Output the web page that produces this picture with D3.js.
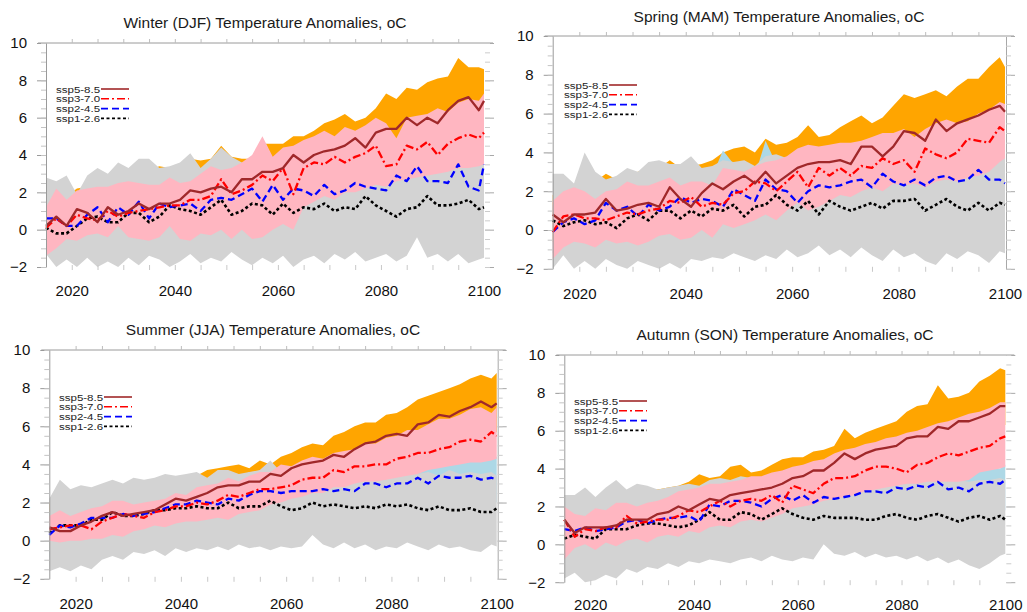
<!DOCTYPE html>
<html>
<head>
<meta charset="utf-8">
<script src="https://cdn.jsdelivr.net/npm/d3@7"></script>
<style>
body { margin: 0; background: #fff; }
svg { display: block; }
</style>
</head>
<body>
<div id="chart-container"></div>
<script>
var width = 1027;
var height = 612;
var font = "'Liberation Sans', Arial, Helvetica, sans-serif";

var years = [2015,2017,2019,2021,2023,2025,2027,2029,2031,2033,2035,2037,2039,2041,2043,2045,2047,2049,2051,2053,2055,2057,2059,2061,2063,2065,2067,2069,2071,2073,2075,2077,2079,2081,2083,2085,2087,2089,2091,2093,2095,2097,2099,2100];
var yTicks = [-2, 0, 2, 4, 6, 8, 10];
var xTicks = [2020, 2040, 2060, 2080, 2100];
var xMinor = [2020,2025,2030,2035,2040,2045,2050,2055,2060,2065,2070,2075,2080,2085,2090,2095];
var yMinor = d3.range(-2, 10.01, 0.5);
var scenarios = ["ssp5-8.5", "ssp3-7.0", "ssp2-4.5", "ssp1-2.6"];

// Winter (DJF)
var djf585 = [0.2,0.7,0.2,1.1,0.9,0.4,1.2,0.8,1.0,1.4,1.1,1.4,1.4,1.6,2.1,2.0,2.2,2.3,2.0,2.7,2.7,3.1,3.1,3.3,4.0,3.6,4.0,4.2,4.3,4.5,4.9,4.4,5.2,5.4,5.4,6.0,5.6,6.0,5.7,6.4,6.9,7.1,6.4,6.9];
var djf370 = [0.1,0.6,0.2,0.8,0.6,0.5,1.0,0.7,0.9,1.0,1.1,1.2,1.3,1.3,1.6,1.6,1.8,2.7,1.9,2.1,2.4,2.9,2.6,3.3,1.9,3.3,3.6,3.5,3.9,3.6,3.9,4.1,4.5,3.4,3.5,4.5,4.3,4.7,4.0,4.6,4.9,5.1,4.9,5.2];
var djf245 = [0.6,0.6,0.2,0.2,0.8,1.2,0.4,1.2,0.8,1.5,0.6,1.4,1.2,1.3,1.4,1.0,1.6,1.7,1.6,1.9,2.2,1.5,2.4,1.6,2.2,2.1,1.8,2.4,1.9,2.1,2.5,2.3,2.2,2.1,2.9,2.6,3.4,2.6,2.6,2.5,3.5,2.3,2.1,3.5];
var djf126 = [0.1,-0.2,-0.2,0.2,0.6,0.7,0.4,0.4,0.9,0.9,0.4,0.7,1.3,1.1,1.0,0.8,1.2,1.6,0.8,1.0,1.4,1.3,0.8,1.4,0.9,1.2,1.1,1.4,1.0,1.2,1.1,1.8,1.3,1.0,0.7,1.1,1.2,1.8,1.3,1.3,1.4,1.6,1.1,1.2];
var djf585hi = [1.5,1.8,1.8,2.2,2.3,2.5,2.7,2.8,2.9,3.0,3.2,3.4,3.3,3.5,3.8,3.7,3.8,4.5,3.9,3.8,3.8,4.6,4.6,4.6,5.0,5.0,5.3,5.7,5.9,6.2,5.8,6.0,6.5,7.3,7.0,7.6,7.5,7.9,8.1,8.2,9.2,8.7,8.7,8.6];
var djf585lo = [-0.8,-0.5,-0.6,-0.2,-0.3,-0.5,0.0,-0.2,0.0,0.2,0.0,0.3,0.3,0.5,0.8,0.7,0.9,1.0,0.8,1.2,1.2,1.5,1.5,1.7,2.2,2.0,2.3,2.5,2.6,2.8,3.0,2.8,3.3,3.5,3.6,4.0,3.8,4.1,4.0,4.4,4.8,5.0,4.6,4.9];
var djf370hi = [1.2,2.2,1.6,2.1,2.2,2.3,2.3,2.5,2.6,2.5,2.4,2.4,2.8,2.5,2.6,3.0,3.4,3.2,3.3,3.6,4.0,5.0,3.9,4.4,4.5,4.8,5.0,5.3,5.0,5.5,5.3,5.6,6.0,5.7,4.9,6.0,6.1,6.2,6.5,6.3,6.8,7.0,6.9,7.3];
var djf370lo = [-1.4,-1.0,-0.5,-0.6,-0.3,-0.2,-0.4,0.2,-0.4,-0.5,-0.6,-0.4,0.2,-0.5,-0.6,-0.2,-0.3,0.0,-0.5,0.0,-0.5,-0.4,0.0,0.3,0.0,1.2,1.5,1.8,1.6,2.0,2.0,2.2,2.4,2.3,2.6,2.7,2.8,2.9,3.0,3.1,3.3,3.3,3.4,3.5];
var djf245hi = [1.8,1.8,1.6,1.5,2.0,2.3,1.8,2.4,2.1,2.6,2.0,2.6,2.5,2.6,2.7,2.4,2.9,3.0,3.0,3.2,3.4,3.0,3.4,3.0,3.3,3.3,3.1,3.6,3.3,3.5,3.8,3.6,3.6,3.5,4.0,3.9,4.5,3.9,4.0,3.9,4.6,3.7,3.6,4.6];
var djf245lo = [-0.8,-0.9,-1.2,-1.1,-0.6,-0.3,-0.9,-0.2,-0.6,0.0,-0.7,0.0,-0.2,-0.1,0.0,-0.3,0.2,0.3,0.2,0.5,0.7,0.1,0.9,0.2,0.7,0.6,0.4,0.9,0.5,0.7,1.0,0.9,0.8,0.7,1.4,1.2,1.9,1.1,1.1,1.0,1.9,0.8,0.6,1.9];
var djf126hi = [2.8,2.6,2.9,1.9,2.9,3.3,3.0,3.6,3.3,3.8,3.8,3.3,3.4,3.6,4.1,3.3,3.8,4.4,3.9,3.6,3.5,3.3,3.2,3.2,3.3,3.0,3.2,3.3,3.1,3.3,3.4,3.2,3.3,3.4,3.2,3.5,3.3,3.6,3.4,3.5,3.6,3.4,3.5,3.6];
var djf126lo = [-1.3,-2.0,-1.6,-2.0,-1.5,-2.0,-1.7,-2.0,-1.5,-1.9,-1.4,-1.6,-2.0,-1.7,-1.3,-1.8,-1.5,-1.7,-1.2,-1.6,-1.9,-1.5,-1.8,-1.4,-2.0,-1.6,-1.4,-1.8,-1.3,-1.6,-1.2,-1.7,-1.5,-1.3,-1.7,-1.4,-0.4,-1.5,-1.3,-1.7,-1.3,-1.8,-1.6,-1.5];

// Spring (MAM)
var mam585 = [0.8,0.4,0.8,0.8,0.9,1.6,1.0,1.1,1.3,1.4,1.2,2.2,1.6,1.2,1.9,2.4,2.1,2.5,2.8,2.4,3.0,2.4,2.8,3.2,3.4,3.5,3.5,3.6,3.4,4.3,4.3,3.8,4.3,5.1,5.0,4.6,5.7,5.1,5.5,5.7,5.9,6.2,6.4,6.1];
var mam370 = [-0.1,0.7,0.8,0.6,0.6,0.5,0.7,0.9,0.8,1.0,1.1,1.5,1.4,1.7,1.2,1.4,1.3,1.9,2.0,2.5,2.4,2.0,2.5,3.0,2.2,3.2,2.8,3.2,2.8,3.3,3.2,3.7,3.4,3.6,3.0,4.2,3.9,3.7,4.0,4.7,4.6,4.5,5.3,5.1];
var mam245 = [-0.1,0.4,0.6,0.3,0.5,1.4,1.0,1.2,0.7,1.3,1.0,1.2,1.7,1.4,1.6,1.5,1.2,2.1,1.8,1.5,2.6,2.1,2.0,1.4,2.0,2.3,2.2,2.3,2.5,2.6,2.2,2.9,2.5,2.3,2.6,2.3,2.7,2.8,2.5,2.6,3.1,2.6,2.6,2.4];
var mam126 = [0.5,0.2,0.4,0.5,0.3,0.4,0.1,0.6,0.8,0.5,1.0,1.0,0.6,1.0,0.7,1.1,1.0,1.3,0.7,1.2,1.3,1.8,1.3,1.0,1.5,0.8,1.5,1.2,1.0,1.2,1.4,1.1,1.5,1.5,1.6,1.0,1.3,1.6,1.2,1.0,1.4,1.0,1.4,1.3];
var mam585hi = [1.8,2.0,2.1,2.3,2.5,2.9,2.6,2.8,3.0,3.1,3.2,3.6,3.2,3.3,3.4,3.6,4.0,4.2,4.3,4.0,4.7,4.4,4.5,4.8,5.4,4.8,4.9,5.3,5.6,5.9,5.5,5.8,6.4,7.0,6.8,7.0,7.2,6.9,7.4,7.8,7.8,8.4,8.9,8.4];
var mam585lo = [-0.6,-0.8,-0.4,-0.5,-0.4,0.2,-0.2,-0.1,0.1,0.2,0.0,0.8,0.3,0.0,0.5,1.0,0.8,1.1,1.4,1.0,1.6,1.0,1.4,1.8,2.0,2.1,2.1,2.2,2.0,2.9,2.9,2.4,2.9,3.7,3.6,3.2,4.3,3.7,4.1,4.3,4.5,4.8,5.0,4.7];
var mam370hi = [1.5,2.0,2.2,2.0,1.6,2.0,2.1,2.5,2.3,2.3,2.5,2.7,2.3,2.5,2.5,2.3,3.2,3.1,3.0,3.3,3.5,3.6,3.8,4.2,4.4,4.3,4.4,4.5,4.5,4.6,4.8,5.0,5.0,5.2,4.8,5.2,5.5,5.7,5.5,5.6,6.0,6.2,6.6,6.5];
var mam370lo = [-1.5,-0.9,-0.6,-0.7,-0.9,-0.5,-0.7,-0.6,-0.8,-0.6,-0.3,-0.2,-0.5,-0.4,0.0,-0.4,0.3,0.1,0.3,0.5,0.8,0.5,1.0,1.4,1.0,1.2,1.5,1.8,1.7,2.0,2.2,2.0,2.4,2.3,2.4,2.2,2.5,2.6,2.5,2.7,2.8,3.0,3.5,3.7];
var mam245hi = [1.3,1.7,1.9,1.6,1.8,2.5,2.3,2.5,2.0,2.6,2.3,2.5,3.0,2.7,2.9,2.8,4.1,3.4,3.1,2.8,4.6,3.4,3.3,2.7,3.3,3.6,3.5,3.6,3.8,3.9,3.5,4.2,3.8,3.6,3.9,3.6,4.0,4.1,3.8,3.9,4.4,3.9,3.9,3.7];
var mam245lo = [-1.2,-0.9,-0.7,-1.0,-0.8,0.1,-0.3,-0.1,-0.6,0.0,-0.3,-0.1,0.4,0.1,0.3,0.2,-0.1,0.8,0.5,0.2,1.3,0.8,0.7,0.1,0.7,1.0,0.9,1.0,1.2,1.3,0.9,1.6,1.2,1.0,1.3,1.0,1.4,1.5,1.2,1.3,1.8,1.3,1.3,1.1];
var mam126hi = [2.9,2.9,2.4,4.0,3.0,2.6,2.8,3.2,3.0,3.5,3.6,3.4,3.4,3.8,3.2,3.3,3.6,3.5,3.6,3.3,3.8,3.9,3.7,3.8,3.4,3.3,3.5,3.3,3.4,3.2,3.5,3.3,3.4,3.5,3.3,3.4,3.6,3.4,3.3,3.5,3.6,3.7,3.8,3.7];
var mam126lo = [-2.0,-1.3,-2.0,-1.6,-2.0,-1.5,-1.8,-2.0,-1.6,-1.8,-2.0,-1.7,-2.0,-1.5,-1.6,-1.4,-1.5,-1.2,-1.4,-1.6,-1.3,-1.5,-1.0,-1.4,-1.2,-0.8,-1.3,-1.0,-1.4,-0.9,-1.3,-1.6,-1.0,-1.4,-1.2,-1.6,-1.8,-1.2,-1.5,-1.1,-1.3,-1.7,-1.1,-1.2];

// Summer (JJA)
var jja585 = [0.7,0.5,0.5,0.8,1.0,1.3,1.5,1.3,1.4,1.5,1.6,1.9,2.2,2.1,2.3,2.5,2.8,2.9,2.9,3.1,3.1,3.5,3.4,3.8,4.0,4.1,4.2,4.5,4.4,4.8,5.1,5.2,5.5,5.6,5.5,6.1,6.2,6.6,6.5,6.8,7.0,7.3,7.0,7.2];
var jja370 = [0.6,0.7,0.8,0.8,0.6,1.0,1.2,1.4,1.3,1.2,1.5,1.6,1.8,1.8,2.0,1.9,2.1,2.4,2.3,2.5,2.7,2.7,2.8,2.9,3.2,3.3,3.3,3.7,3.6,3.9,3.9,4.0,4.0,4.3,4.4,4.6,4.6,4.8,4.9,5.2,5.3,5.2,5.7,5.5];
var jja245 = [0.3,0.8,0.7,0.9,1.2,1.2,1.2,1.4,1.3,1.4,1.5,1.7,1.9,1.9,2.1,2.0,1.9,2.2,2.1,2.4,2.6,2.6,2.5,2.6,2.6,2.6,2.7,2.6,2.7,2.6,3.0,3.0,2.8,3.0,3.0,3.3,3.0,3.4,3.3,3.3,3.4,3.2,3.3,3.2];
var jja126 = [0.4,0.8,0.8,0.8,1.1,1.1,1.5,1.3,1.3,1.4,1.6,1.6,1.7,1.7,1.8,1.7,1.7,2.0,1.7,1.8,1.8,2.1,1.8,1.6,1.7,2.0,1.8,1.9,1.8,1.7,1.8,1.7,1.9,1.8,1.9,1.7,1.6,1.8,1.6,1.6,1.7,1.5,1.5,1.7];
var jja585hi = [2.0,2.2,2.3,2.4,2.5,2.6,2.8,2.9,3.0,3.0,3.1,3.2,3.3,3.3,3.4,3.7,3.8,3.9,4.0,3.8,4.2,4.0,4.4,4.6,4.9,5.1,5.0,5.5,5.7,6.0,6.2,6.2,6.6,6.7,7.0,7.4,7.6,7.8,8.0,8.2,8.5,8.7,8.5,8.8];
var jja585lo = [-0.4,-0.3,-0.5,-0.2,0.0,0.2,0.4,0.2,0.3,0.4,0.5,0.7,1.0,0.9,1.1,1.3,1.5,1.6,1.6,1.8,1.8,2.2,2.1,2.5,2.7,2.8,2.9,3.2,3.1,3.5,3.7,3.8,4.1,4.2,4.1,4.6,4.7,5.1,5.0,5.3,5.5,5.8,5.5,5.7];
var jja370hi = [1.3,1.6,1.3,1.5,1.7,1.8,2.1,2.1,1.9,2.0,2.1,2.2,2.5,2.4,2.8,2.9,3.0,3.3,3.1,3.4,3.6,3.6,4.0,3.9,4.2,4.4,4.3,4.6,4.7,4.8,5.1,5.1,5.4,5.5,5.8,5.8,6.1,6.4,6.4,6.6,6.9,7.0,6.7,7.0];
var jja370lo = [0.0,-0.1,0.0,0.0,0.1,0.1,0.3,0.2,0.5,0.6,0.8,0.7,0.9,1.0,1.0,1.1,1.2,1.1,1.4,1.5,1.6,1.9,2.0,2.2,2.3,2.5,2.5,2.8,2.8,3.0,3.1,3.1,3.2,3.3,3.4,3.5,3.7,3.8,3.9,4.0,4.1,4.1,4.2,4.3];
var jja245hi = [1.5,2.0,1.9,2.1,2.4,2.4,2.4,2.6,2.5,2.6,2.7,2.9,3.1,3.1,3.3,3.2,3.1,3.4,3.3,3.6,3.6,3.8,3.7,3.8,3.8,3.8,3.9,3.8,3.9,3.8,4.2,4.2,4.0,4.2,4.2,4.5,4.2,4.6,4.5,4.5,4.6,4.4,4.5,4.4];
var jja245lo = [-0.9,-0.4,-0.5,-0.3,0.0,0.0,0.0,0.2,0.1,0.2,0.3,0.5,0.7,0.7,0.9,0.8,0.7,1.0,0.9,1.2,1.4,1.4,1.3,1.4,1.4,1.4,1.5,1.4,1.5,1.4,1.8,1.8,1.6,1.8,1.8,2.1,1.8,2.2,2.1,2.1,2.2,2.0,2.1,2.0];
var jja126hi = [2.2,3.2,2.7,2.9,2.8,3.0,3.2,3.0,3.3,3.2,3.3,3.5,3.4,3.5,3.6,3.3,3.7,3.7,3.5,3.6,3.7,4.2,3.6,3.5,3.5,3.4,3.5,3.4,3.5,3.3,3.4,3.5,3.4,3.5,3.5,3.5,3.6,3.4,3.7,3.5,3.6,3.5,3.6,3.4];
var jja126lo = [-1.6,-1.4,-1.6,-1.3,-1.5,-1.0,-0.8,-1.0,-0.6,-0.7,-0.5,-0.8,-0.4,-0.6,-0.4,-0.5,-0.3,-0.5,-0.2,-0.4,-0.3,-0.5,-0.3,-0.4,-0.3,0.3,-0.2,-0.4,-0.1,-0.4,-0.2,-0.5,-0.3,-0.4,-0.1,-0.3,-0.5,-0.2,-0.4,-0.3,-0.5,-0.6,-0.2,-0.3];

// Autumn (SON)
var son585 = [1.3,0.6,0.9,0.9,0.9,1.0,1.3,1.3,1.3,1.6,1.7,2.0,1.8,2.1,2.4,2.3,2.6,2.7,2.8,2.9,3.0,3.2,3.5,3.6,3.9,3.9,4.3,4.8,4.5,4.8,5.0,5.1,5.2,5.6,5.7,5.7,6.2,6.1,6.5,6.5,6.7,6.9,7.3,7.3];
var son370 = [1.3,0.4,0.8,0.7,0.9,0.9,1.5,1.1,1.2,1.3,1.3,1.5,1.8,1.7,2.0,2.3,2.0,2.3,2.4,2.3,2.6,2.2,3.1,2.9,2.7,3.2,3.5,3.5,3.6,3.9,4.1,4.1,4.0,3.8,4.2,4.3,4.6,4.8,4.7,4.9,5.1,5.2,5.6,5.7];
var son245 = [0.8,0.7,0.9,0.7,0.8,0.9,1.2,1.3,1.1,1.3,1.4,1.4,1.5,1.2,2.1,2.0,2.3,2.3,2.2,2.0,2.4,2.6,2.3,2.6,2.2,2.5,2.4,2.5,2.6,2.8,2.8,2.7,3.0,2.9,3.1,3.0,3.3,2.9,3.0,2.8,3.2,3.3,3.2,3.4];
var son126 = [0.3,0.5,0.4,0.3,0.8,0.8,0.8,1.0,1.1,1.1,1.0,0.9,1.0,1.3,1.7,1.3,1.3,1.7,1.6,1.3,1.6,1.9,1.6,1.4,1.3,1.5,1.4,1.4,1.4,1.3,1.3,1.5,1.6,1.4,1.3,1.5,1.6,1.4,1.2,1.4,1.5,1.3,1.5,1.3];
var son585hi = [2.0,2.1,2.2,2.3,2.4,2.6,2.7,2.8,2.9,2.9,3.0,3.1,3.3,3.7,3.5,3.6,4.1,4.2,3.8,3.9,4.2,4.5,4.6,4.6,4.9,5.0,5.2,6.1,5.6,5.9,6.1,6.3,6.5,7.0,7.3,7.4,8.4,7.7,7.8,8.0,8.6,8.9,9.3,9.2];
var son585lo = [0.0,-0.4,-0.1,-0.1,-0.1,0.0,0.3,0.3,0.3,0.6,0.7,1.0,0.8,1.1,1.4,1.3,1.6,1.7,1.8,1.9,2.0,2.2,2.5,2.6,2.9,2.9,3.3,3.8,3.5,3.8,4.0,4.1,4.2,4.6,4.7,4.7,5.2,5.1,5.5,5.5,5.7,5.9,6.3,6.3];
var son370hi = [2.0,1.6,1.5,1.9,1.8,2.2,2.2,2.0,2.2,2.3,2.5,2.8,2.9,3.0,3.2,3.2,3.3,3.4,3.6,3.6,3.8,3.9,4.1,4.2,4.4,4.5,4.8,5.0,5.1,5.3,5.4,5.6,5.7,5.9,6.0,6.2,6.4,6.5,6.7,6.9,7.0,7.2,7.5,7.5];
var son370lo = [-0.8,-0.2,0.0,-0.3,0.1,-0.1,0.2,0.3,0.1,0.4,0.5,0.4,0.7,0.6,0.9,1.0,0.9,1.2,1.3,1.2,1.4,1.6,1.9,2.0,2.1,2.3,2.4,2.5,2.6,2.8,2.9,3.0,3.1,3.2,3.2,3.3,3.3,3.3,3.3,3.4,3.8,3.9,4.0,4.1];
var son245hi = [1.8,1.7,1.9,1.7,1.8,1.9,2.2,2.3,2.1,2.3,2.4,2.4,2.5,2.2,3.1,3.0,3.2,3.2,3.1,2.9,3.2,3.4,3.2,3.4,3.0,3.3,3.2,3.3,3.4,3.6,3.6,3.5,3.8,3.7,3.9,3.8,4.1,3.7,3.8,3.6,4.0,4.1,4.0,4.2];
var son245lo = [-0.8,-0.9,-0.7,-0.9,-0.8,-0.7,-0.4,-0.3,-0.5,-0.3,-0.2,-0.2,-0.1,-0.4,0.5,0.4,0.7,0.7,0.6,0.4,0.8,1.0,0.7,1.0,0.6,0.9,0.8,0.9,1.0,1.2,1.2,1.1,1.4,1.3,1.5,1.4,1.7,1.3,1.4,1.2,1.6,1.7,1.6,1.8];
var son126hi = [2.6,2.6,3.0,2.5,3.0,3.4,2.9,3.2,3.1,2.9,3.0,3.1,3.2,3.1,3.4,3.5,3.4,3.6,3.5,3.4,3.6,3.6,3.5,3.4,3.3,3.4,3.3,3.4,3.3,3.4,3.3,3.4,3.3,3.4,3.3,3.3,3.4,3.3,3.4,3.3,3.4,3.4,3.5,3.4];
var son126lo = [-1.8,-1.5,-2.0,-1.9,-1.6,-1.8,-1.3,-1.5,-1.2,-1.3,-1.0,-1.2,-0.9,-1.0,-0.8,-0.9,-1.0,-0.8,-0.7,-0.9,-0.6,-0.8,-0.9,-0.7,-0.8,0.0,-0.5,-0.6,-0.4,-0.7,-0.5,-0.7,-0.6,-0.8,-0.6,-0.9,-0.7,-1.0,-0.8,-1.1,-1.3,-1.0,-0.6,-0.5];

var lineColors = ["#a0282a", "#ff0000", "#0000ff", "#000000"];
var lineDash = [null, "8,3,2,3", "7,4", "3,2.5"];

var seasons = [
	{ name: "Winter (DJF)", lines: [djf585, djf370, djf245, djf126],
	  bands: [[djf585lo, djf585hi, "#ffa500"], [djf245lo, djf245hi, "#add8e6"], [djf126lo, djf126hi, "#d3d3d3"], [djf370lo, djf370hi, "#ffb6c1"]] },
	{ name: "Spring (MAM)", lines: [mam585, mam370, mam245, mam126],
	  bands: [[mam585lo, mam585hi, "#ffa500"], [mam245lo, mam245hi, "#add8e6"], [mam126lo, mam126hi, "#d3d3d3"], [mam370lo, mam370hi, "#ffb6c1"]] },
	{ name: "Summer (JJA)", lines: [jja585, jja370, jja245, jja126],
	  bands: [[jja585lo, jja585hi, "#ffa500"], [jja245lo, jja245hi, "#add8e6"], [jja126lo, jja126hi, "#d3d3d3"], [jja370lo, jja370hi, "#ffb6c1"]] },
	{ name: "Autumn (SON)", lines: [son585, son370, son245, son126],
	  bands: [[son585lo, son585hi, "#ffa500"], [son245lo, son245hi, "#add8e6"], [son126lo, son126hi, "#d3d3d3"], [son370lo, son370hi, "#ffb6c1"]] }
];

// where each panel sits on the page
var layout = [
	{ x0: 46, x1: 484, yTop: 43, yBot: 267, titleX: 265, titleY: 28, labelY: 296, legX: 56, legY: 89, rightLine: false },
	{ x0: 552.7, x1: 1005, yTop: 36, yBot: 268.8, titleX: 779, titleY: 22, labelY: 299, legX: 564, legY: 85, rightLine: true },
	{ x0: 49.3, x1: 496.7, yTop: 350, yBot: 578.8, titleX: 273, titleY: 335, labelY: 609, legX: 59, legY: 397, rightLine: true },
	{ x0: 564.3, x1: 1005.3, yTop: 355, yBot: 582.2, titleX: 785, titleY: 340, labelY: 610, legX: 574, legY: 401, rightLine: false }
];

var svg = d3
.select("#chart-container")
.append("svg")
.attr("width", width)
.attr("height", height);

function styleAxis(g, color) {
	g.attr("font-family", font);
	g.selectAll(".tick line").attr("stroke", color);
	g.select(".domain").attr("stroke", color);
	g.selectAll("text").attr("fill", "#111").attr("font-size", 15);
}

function drawPanel(p, s) {
	let xScale = d3.scaleLinear().domain([2015, 2100]).range([p.x0, p.x1]);
	let yScale = d3.scaleLinear().domain([-2, 10]).range([p.yBot, p.yTop]);

	let g = svg.append("g");

	// spread bands
	let area = d3.area()
	.x(function(d, i) { return xScale(years[i]); })
	.y0(function(d) { return yScale(d[0]); })
	.y1(function(d) { return yScale(d[1]); });

	s.bands.forEach(function(b) {
		g.append("path")
		.datum(d3.zip(b[0], b[1]))
		.attr("d", area)
		.attr("fill", b[2]);
	});

	// ensemble means, ssp1-2.6 first so ssp5-8.5 ends on top
	let line = d3.line()
	.x(function(d, i) { return xScale(years[i]); })
	.y(function(d) { return yScale(d); });

	[3, 2, 1, 0].forEach(function(k) {
		g.append("path")
		.datum(s.lines[k])
		.attr("d", line)
		.attr("fill", "none")
		.attr("stroke", lineColors[k])
		.attr("stroke-width", k == 3 ? 2.6 : 2.3)
		.attr("stroke-dasharray", lineDash[k])
		.attr("stroke-linejoin", "round");
	});

	// frame
	g.append("line")
	.attr("x1", p.x0 - 8).attr("x2", p.x1 + 9)
	.attr("y1", p.yTop).attr("y2", p.yTop)
	.attr("stroke", "#9a9a9a");

	let left = g.append("g")
	.attr("transform", "translate(" + p.x0 + ",0)")
	.call(d3.axisLeft(yScale).tickValues(yTicks).tickSize(9).tickSizeOuter(0).tickPadding(10));
	styleAxis(left, "#9a9a9a");

	let leftMinor = g.append("g")
	.attr("transform", "translate(" + p.x0 + ",0)")
	.call(d3.axisLeft(yScale).tickValues(yMinor).tickSize(5).tickFormat(""));
	leftMinor.select(".domain").remove();
	styleAxis(leftMinor, "#c4c4c4");

	let right = g.append("g")
	.attr("transform", "translate(" + (p.x1 + 1) + ",0)")
	.call(d3.axisRight(yScale).tickValues(yTicks).tickSize(9).tickSizeOuter(0).tickFormat(""));
	if (!p.rightLine) right.select(".domain").remove();
	styleAxis(right, "#a8a8a8");

	let rightMinor = g.append("g")
	.attr("transform", "translate(" + (p.x1 + 1) + ",0)")
	.call(d3.axisRight(yScale).tickValues(yMinor).tickSize(5).tickFormat(""));
	rightMinor.select(".domain").remove();
	styleAxis(rightMinor, "#cccccc");

	let top = g.append("g")
	.attr("transform", "translate(0," + p.yTop + ")")
	.call(d3.axisTop(xScale).tickValues(xMinor).tickSize(4).tickFormat(""));
	top.select(".domain").remove();
	styleAxis(top, "#bdbdbd");

	let bottomMinor = g.append("g")
	.attr("transform", "translate(0," + (p.yBot - 2) + ")")
	.call(d3.axisBottom(xScale).tickValues(xMinor).tickSize(5).tickFormat(""));
	bottomMinor.select(".domain").remove();
	styleAxis(bottomMinor, "#c8c8c8");

	let bottom = g.append("g")
	.attr("transform", "translate(0," + p.yBot + ")")
	.call(d3.axisBottom(xScale).tickValues(xTicks).tickFormat(d3.format("d")).tickSize(0).tickPadding(p.labelY - p.yBot - 10.6));
	bottom.select(".domain").remove();
	styleAxis(bottom, "none");

	// title
	g.append("text")
	.attr("x", p.titleX)
	.attr("y", p.titleY)
	.attr("text-anchor", "middle")
	.attr("font-family", font)
	.attr("font-size", 15.5)
	.attr("fill", "#1a1a1a")
	.text(s.name + " Temperature Anomalies, oC");

	// legend, text squeezed vertically like the original
	let legend = g.append("g")
	.selectAll("g")
	.data(scenarios)
	.enter()
	.append("g")
	.attr("transform", function(d, i) {
		return "translate(" + p.legX + "," + (p.legY + i * 9.8) + ")";
	});

	legend.append("text")
	.attr("transform", "translate(0,3.6) scale(1,0.74)")
	.attr("font-family", font)
	.attr("font-size", 11.5)
	.attr("fill", "#222")
	.text(function(d) { return d; });

	legend.append("line")
	.attr("x1", 45)
	.attr("x2", 73)
	.attr("y1", 0)
	.attr("y2", 0)
	.attr("stroke", function(d, i) { return lineColors[i]; })
	.attr("stroke-width", 1.6)
	.attr("stroke-dasharray", function(d, i) { return lineDash[i]; });
}

layout.forEach(function(p, i) {
	drawPanel(p, seasons[i]);
});
</script>
</body>
</html>
